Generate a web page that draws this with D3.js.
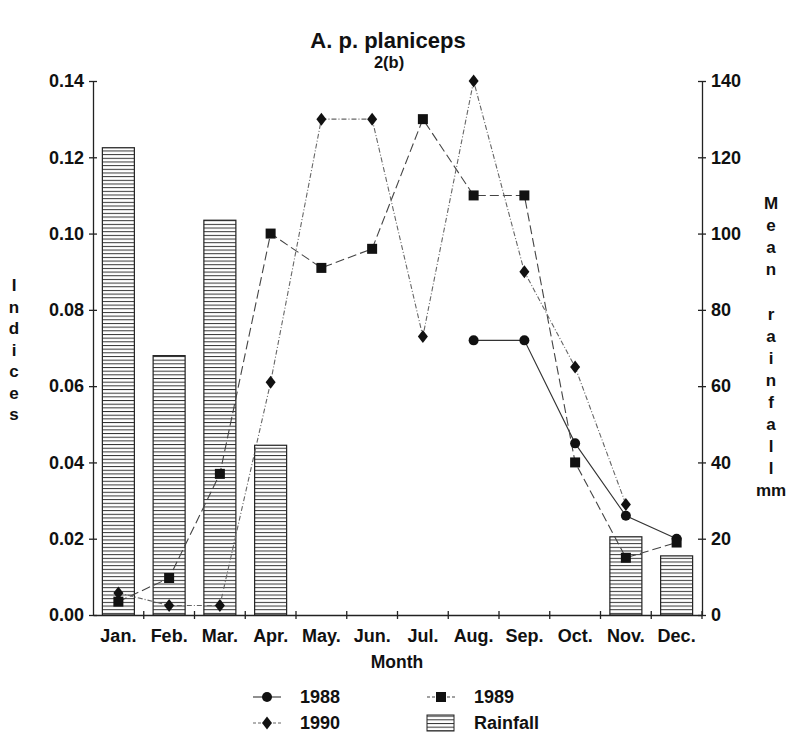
<!DOCTYPE html>
<html>
<head>
<meta charset="utf-8">
<script src="https://cdn.jsdelivr.net/npm/d3@7"></script>
<style>
body { margin: 0; background: #fff; }
text { font-family: "Liberation Sans", Arial, sans-serif; font-weight: bold; fill: #111; }
</style>
</head>
<body>
<svg id="chart" width="795" height="733"></svg>
<script>
// data
var months = ["Jan.", "Feb.", "Mar.", "Apr.", "May.", "Jun.", "Jul.", "Aug.", "Sep.", "Oct.", "Nov.", "Dec."];
var rainfall = [122.5, 68, 103.5, 44.5, 0, 0, 0, 0, 0, 0, 20.5, 15.5];
var y1988 = [null, null, null, null, null, null, null, 0.072, 0.072, 0.045, 0.026, 0.020];
var y1989 = [0.0035, 0.0097, 0.037, 0.100, 0.091, 0.096, 0.130, 0.110, 0.110, 0.040, 0.015, 0.019];
var y1990 = [0.0058, 0.0025, 0.0025, 0.061, 0.130, 0.130, 0.073, 0.140, 0.090, 0.065, 0.029, null];
var leftTicks = [0, 0.02, 0.04, 0.06, 0.08, 0.10, 0.12, 0.14];
var rightTicks = [0, 20, 40, 60, 80, 100, 120, 140];

var svg = d3.select("#chart");
var mLeft = 93, mRight = 702, mTop = 81, mBottom = 615;

var x = d3.scaleBand().domain(months).range([mLeft, mRight]).paddingInner(0).paddingOuter(0);
var yl = d3.scaleLinear().domain([0, 0.14]).range([mBottom, mTop]);
var yr = d3.scaleLinear().domain([0, 140]).range([mBottom, mTop]);

// hatch pattern for the rainfall bars
var defs = svg.append("defs");
var pat = defs.append("pattern")
	.attr("id", "hatch")
	.attr("patternUnits", "userSpaceOnUse")
	.attr("width", 8).attr("height", 3.67);
pat.append("rect").attr("width", 8).attr("height", 3.67).attr("fill", "#fff");
pat.append("line")
	.attr("x1", 0).attr("x2", 8).attr("y1", 0.5).attr("y2", 0.5)
	.attr("stroke", "#333").attr("stroke-width", 1);

// bars
var barW = 32;
svg.append("g").selectAll("rect")
	.data(rainfall.map(function (v, i) { return {m: months[i], v: v}; }).filter(function (d) { return d.v > 0; }))
	.enter().append("rect")
	.attr("x", function (d) { return x(d.m) + x.bandwidth() / 2 - barW / 2; })
	.attr("y", function (d) { return yr(d.v); })
	.attr("width", barW)
	.attr("height", function (d) { return mBottom - yr(d.v); })
	.attr("fill", "url(#hatch)")
	.attr("stroke", "#222").attr("stroke-width", 1.2);

// axes
var axL = d3.axisLeft(yl).tickValues(leftTicks).tickFormat(d3.format(".2f")).tickSizeInner(4).tickSizeOuter(0).tickPadding(5);
var gL = svg.append("g").attr("transform", "translate(" + mLeft + ",0)").call(axL);
var axR = d3.axisRight(yr).tickValues(rightTicks).tickSizeInner(4).tickSizeOuter(0).tickPadding(5);
var gR = svg.append("g").attr("transform", "translate(" + mRight + ",0)").call(axR);
var axB = d3.axisBottom(x).tickSize(0).tickPadding(14);
var gB = svg.append("g").attr("transform", "translate(0," + mBottom + ")").call(axB);

[gL, gR, gB].forEach(function (g) {
	g.select(".domain").attr("stroke", "#222").attr("stroke-width", 1.3);
	g.selectAll("line").attr("stroke", "#222").attr("stroke-width", 1.3);
	g.selectAll("text").style("font-family", "'Liberation Sans', Arial, sans-serif")
		.style("font-weight", "bold").style("font-size", "18px").attr("fill", "#111");
});
// ticks cross the axis
gL.selectAll(".tick line").attr("x1", 4);
gR.selectAll(".tick line").attr("x1", -4);
var bounds = d3.range(1, 13).map(function (i) { return mLeft + i * x.bandwidth(); });
svg.append("g").selectAll("line").data(bounds).enter().append("line")
	.attr("x1", function (d) { return d; }).attr("x2", function (d) { return d; })
	.attr("y1", mBottom - 4).attr("y2", mBottom + 4)
	.attr("stroke", "#222").attr("stroke-width", 1.3);

// lines
function cx(i) { return x(months[i]) + x.bandwidth() / 2; }
var line = d3.line()
	.defined(function (d) { return d != null; })
	.x(function (d, i) { return cx(i); })
	.y(function (d) { return yl(d); });

var series = [
	{name: "1988", vals: y1988, dash: null, color: "#333", mark: "circle"},
	{name: "1989", vals: y1989, dash: "9,4", color: "#444", mark: "square"},
	{name: "1990", vals: y1990, dash: "5,2,1,2", color: "#666", mark: "diamond"}
];

function drawMark(g, type, px, py) {
	if (type === "circle") {
		g.append("circle").attr("cx", px).attr("cy", py).attr("r", 5).attr("fill", "#111");
	} else if (type === "square") {
		g.append("rect").attr("x", px - 5).attr("y", py - 5).attr("width", 10).attr("height", 10).attr("fill", "#111");
	} else {
		g.append("path").attr("d", "M" + px + "," + (py - 6.5) + "L" + (px + 5) + "," + py + "L" + px + "," + (py + 6.5) + "L" + (px - 5) + "," + py + "Z").attr("fill", "#111");
	}
}

series.forEach(function (s) {
	svg.append("path").datum(s.vals)
		.attr("d", line)
		.attr("fill", "none")
		.attr("stroke", s.color).attr("stroke-width", 1.1)
		.attr("stroke-dasharray", s.dash);
});
series.forEach(function (s) {
	var g = svg.append("g");
	s.vals.forEach(function (v, i) {
		if (v != null) drawMark(g, s.mark, cx(i), yl(v));
	});
});

// titles
svg.append("text").attr("x", 388).attr("y", 48).attr("text-anchor", "middle").style("font-size", "22px").text("A. p. planiceps");
svg.append("text").attr("x", 389).attr("y", 68).attr("text-anchor", "middle").style("font-size", "16.5px").text("2(b)");
svg.append("text").attr("x", 397).attr("y", 668).attr("text-anchor", "middle").style("font-size", "17.5px").text("Month");

// vertical stacked axis labels
var leftLetters = ["I", "n", "d", "i", "c", "e", "s"];
svg.append("g").selectAll("text").data(leftLetters).enter().append("text")
	.attr("x", 14).attr("y", function (d, i) { return 291 + i * 21.5; })
	.attr("text-anchor", "middle").style("font-size", "17px")
	.text(function (d) { return d; });

var rightLetters = ["M", "e", "a", "n", "", "r", "a", "i", "n", "f", "a", "l", "l", "mm"];
svg.append("g").selectAll("text").data(rightLetters).enter().append("text")
	.attr("x", 771).attr("y", function (d, i) { return 209 + i * 22.1; })
	.attr("text-anchor", "middle").style("font-size", "17px")
	.text(function (d) { return d; });

// legend
var legend = [
	{name: "1988", s: series[0], x: 253, y: 697},
	{name: "1989", s: series[1], x: 427, y: 697},
	{name: "1990", s: series[2], x: 253, y: 723},
	{name: "Rainfall", s: null, x: 427, y: 723}
];
legend.forEach(function (d) {
	var g = svg.append("g");
	if (d.s) {
		g.append("line").attr("x1", d.x).attr("x2", d.x + 28).attr("y1", d.y).attr("y2", d.y)
			.attr("stroke", d.s.color).attr("stroke-width", 1.1).attr("stroke-dasharray", d.s.dash ? "3,2" : null);
		drawMark(g, d.s.mark, d.x + 14, d.y);
	} else {
		g.append("rect").attr("x", d.x).attr("y", d.y - 8).attr("width", 27).attr("height", 16)
			.attr("fill", "url(#hatch)").attr("stroke", "#222").attr("stroke-width", 1);
	}
	g.append("text").attr("x", d.x + 47).attr("y", d.y + 6).style("font-size", "18px").text(d.name);
});
</script>
</body>
</html>
